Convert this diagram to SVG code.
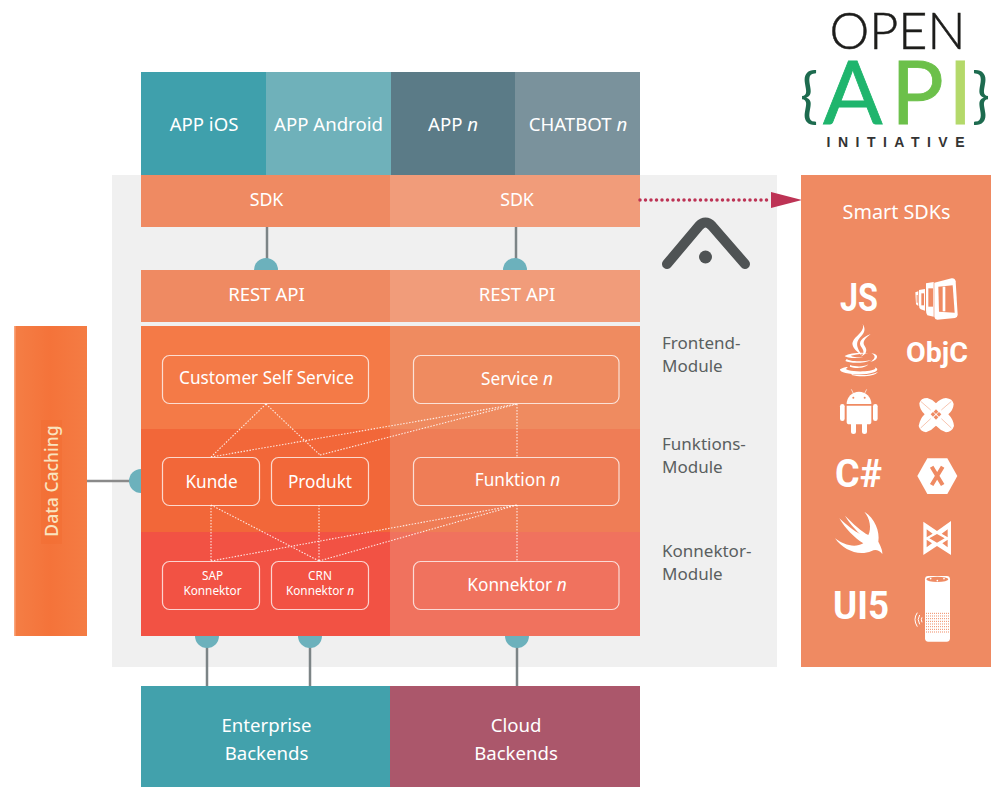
<svg xmlns="http://www.w3.org/2000/svg" width="991" height="787" viewBox="0 0 991 787">
<style>
text{font-family:"Noto Sans","Open Sans","Liberation Sans",sans-serif}
.l{fill:#fff;font-size:17.2px;text-anchor:middle}
.c{fill:#fff;font-size:18.6px;text-anchor:middle}
.s{fill:#fff;font-size:11.8px;text-anchor:middle}
.m{fill:#5a5f60;font-size:17px}
.b{fill:none;stroke:#fff;stroke-opacity:.75;stroke-width:1.2}
.d{fill:none;stroke:#fff;stroke-opacity:.85;stroke-width:1.1;stroke-dasharray:1.5 1.5}
.g{fill:none;stroke:#7c8486;stroke-width:2.5}
.t{fill:#6cb1bc}
.i{fill:#fff;font-family:Roboto,"Liberation Sans",sans-serif;font-weight:700;text-anchor:middle}
.o{fill:#ef8a62}
.w{fill:none;stroke:#fff}
.lg{font-family:Lato,"Liberation Sans",sans-serif}
</style>
<defs>
<clipPath id="lc"><rect x="800" y="12" width="191" height="140"/></clipPath>
<linearGradient id="dc" x1="0" x2="1" y1="0" y2="0"><stop offset="0" stop-color="#f47e45"/><stop offset=".5" stop-color="#f4733a"/><stop offset="1" stop-color="#f47c44"/></linearGradient>
</defs>
<rect width="991" height="787" fill="#fff"/>
<rect id="panel" x="112" y="175" width="665" height="492" fill="#f0f0f0"/>

<g id="connectors">
<path class="g" d="M267 227V262M516 227V262M207 640V686M310 640V686M517 640V686"/>
<path d="M87 481H134" fill="none" stroke="#8a8a8a" stroke-width="2.500"/>
<circle class="t" cx="266" cy="270" r="12"/><circle class="t" cx="515" cy="270" r="12"/>
<circle class="t" cx="141" cy="481" r="12"/>
<circle class="t" cx="207" cy="636" r="12"/><circle class="t" cx="310" cy="636" r="12"/><circle class="t" cx="517" cy="636" r="12"/>
</g>

<g id="app-ios"><rect x="141" y="72" width="125" height="103" fill="#3fa0ac"/><text class="c" x="204" y="131">APP iOS</text></g>
<g id="app-android"><rect x="266" y="72" width="125" height="103" fill="#6fb1ba"/><text class="c" x="328.500" y="131">APP Android</text></g>
<g id="app-n"><rect x="391" y="72" width="125" height="103" fill="#5b7b87"/><text class="c" x="453" y="131">APP <tspan font-style="italic">n</tspan></text></g>
<g id="chatbot-n"><rect x="515" y="72" width="125" height="103" fill="#7a929c"/><text class="c" x="578" y="131">CHATBOT <tspan font-style="italic">n</tspan></text></g>
<g id="sdk-1"><rect x="141" y="175" width="249" height="52" fill="#ef8a62"/><text class="l" x="266.500" y="206" style="font-size:17.8px">SDK</text></g>
<g id="sdk-2"><rect x="390" y="175" width="250" height="52" fill="#f19c7a"/><text class="l" x="517" y="206" style="font-size:17.8px">SDK</text></g>
<g id="rest-1"><rect x="141" y="270" width="249" height="52" fill="#ef8a62"/><text class="c" x="266.500" y="301">REST API</text></g>
<g id="rest-2"><rect x="390" y="270" width="250" height="52" fill="#f19c7a"/><text class="c" x="517" y="301">REST API</text></g>

<g id="bands">
<rect x="141" y="326" width="249" height="103" fill="#f47a47"/>
<rect x="141" y="429" width="249" height="103" fill="#f26739"/>
<rect x="141" y="532" width="249" height="104" fill="#f25244"/>
<rect x="390" y="326" width="250" height="103" fill="#ef8b60"/>
<rect x="390" y="429" width="250" height="103" fill="#ef7d56"/>
<rect x="390" y="532" width="250" height="104" fill="#f0725e"/>
</g>

<g id="dotted-links">
<path class="d" d="M266 404L211 457M266 404L320 455M211 457L517 404M320 455L517 404M517 404V457M211 505V561M319 505V561M211 505L319 561M211 561L517 505M319 561L517 505M517 505V561"/>
</g>

<g id="customer-self-service"><rect class="b" x="162.500" y="355.500" width="206" height="48" rx="7"/><text class="l" x="266.500" y="384">Customer Self Service</text></g>
<g id="service-n"><rect class="b" x="413.500" y="355.500" width="205.500" height="48" rx="7"/><text class="l" x="517" y="385">Service <tspan font-style="italic">n</tspan></text></g>
<g id="kunde"><rect class="b" x="162.500" y="457.500" width="97" height="48" rx="7"/><text class="l" x="211.500" y="488">Kunde</text></g>
<g id="produkt"><rect class="b" x="271.500" y="457.500" width="97" height="48" rx="7"/><text class="l" x="320" y="488">Produkt</text></g>
<g id="funktion-n"><rect class="b" x="413.500" y="457.500" width="205.500" height="48" rx="7"/><text class="l" x="517.500" y="486">Funktion <tspan font-style="italic">n</tspan></text></g>
<g id="sap-konnektor"><rect class="b" x="162.500" y="561.500" width="97" height="48" rx="7"/><text class="s" x="212.500" y="580">SAP</text><text class="s" x="212.500" y="595">Konnektor</text></g>
<g id="crn-konnektor-n"><rect class="b" x="271.500" y="561.500" width="97" height="48" rx="7"/><text class="s" x="320" y="580">CRN</text><text class="s" x="320" y="595">Konnektor <tspan font-style="italic">n</tspan></text></g>
<g id="konnektor-n"><rect class="b" x="413.500" y="561.500" width="205.500" height="48" rx="7"/><text class="l" x="517" y="591">Konnektor <tspan font-style="italic">n</tspan></text></g>

<g id="module-labels">
<text class="m" x="662" y="349">Frontend-</text><text class="m" x="662" y="372">Module</text>
<text class="m" x="662" y="450">Funktions-</text><text class="m" x="662" y="473">Module</text>
<text class="m" x="662" y="557">Konnektor-</text><text class="m" x="662" y="580">Module</text>
</g>

<g id="data-caching">
<rect x="14" y="326" width="73" height="310" fill="url(#dc)"/>
<rect x="14" y="326" width="1.500" height="310" fill="#f9a57c"/>
<rect x="41" y="420" width="21" height="124" fill="#f26b2e" opacity=".35"/>
<text x="52" y="481" transform="rotate(-90 52 481)" dy="6" text-anchor="middle" font-size="17.500" fill="#f9e3bf" font-weight="500">Data Caching</text>
</g>
<g id="enterprise-backends"><rect x="141" y="686" width="249" height="101" fill="#42a1ac"/><text class="c" x="266.500" y="732">Enterprise</text><text class="c" x="266.500" y="760">Backends</text></g>
<g id="cloud-backends"><rect x="390" y="686" width="250" height="101" fill="#ab576b"/><text class="c" x="516" y="732">Cloud</text><text class="c" x="516" y="760">Backends</text></g>

<g id="logo-mark" fill="none" stroke="#4f5354" stroke-width="10" stroke-linecap="round" stroke-linejoin="round">
<path d="M667 264L699 226Q705.500 219 712 226L745 264"/><circle cx="705.500" cy="257" r="6.500" fill="#4f5354" stroke="none"/>
</g>

<g id="sdk-arrow">
<path d="M640 200H771" fill="none" stroke="#bd3355" stroke-width="3.500" stroke-linecap="round" stroke-dasharray="0 5.500"/>
<path d="M771 192L802 200L771 208Z" fill="#bd3355"/>
</g>

<g id="open-api-logo" clip-path="url(#lc)">
<text class="lg" x="897.500" y="49" text-anchor="middle" font-size="52" fill="#1d1d1b" font-weight="300" stroke="#1d1d1b" stroke-width=".5" textLength="136" lengthAdjust="spacingAndGlyphs">OPEN</text>
<text class="lg" y="124" font-size="88"><tspan x="800" y="116" font-size="60" fill="#1d6b4f">{</tspan><tspan x="823" y="124" fill="#1fb56d" stroke="#1fb56d" stroke-width=".8">A</tspan><tspan x="891" fill="#6cc04a" stroke="#6cc04a" stroke-width=".8">P</tspan><tspan x="948" fill="#b4d96a" stroke="#b4d96a" stroke-width=".8">I</tspan><tspan x="972" y="116" font-size="60" fill="#1d6b4f">}</tspan></text>
<text x="895.500" y="147" text-anchor="middle" font-size="14" font-weight="700" fill="#333" textLength="138" style="font-family:'Liberation Sans',sans-serif">INITIATIVE</text>
</g>

<g id="smart-sdks">
<rect x="801" y="175" width="190" height="492" fill="#ef8a62"/>
<text class="l" x="896.500" y="219" style="font-size:19.800px">Smart SDKs</text>
<text class="i" x="859" y="311" font-size="39" textLength="38" lengthAdjust="spacingAndGlyphs">JS</text>
<text class="i" x="937" y="362" font-size="27" textLength="62" lengthAdjust="spacingAndGlyphs">ObjC</text>
<text class="i" x="858.500" y="487" font-size="39" textLength="47" lengthAdjust="spacingAndGlyphs">C#</text>
<text class="i" x="861" y="619" font-size="38" textLength="56" lengthAdjust="spacingAndGlyphs">UI5</text>
<g transform="translate(800 260) scale(.33333)">
<g id="icon-phones">
<path fill="#fff" d="M403 68L455 55Q465 54 467 64L473 165Q472 173 465 174L412 179Q404 178 403 170Z"/>
<path class="o" d="M415 80L458 76L464 158L417 155Z"/>
<path fill="#fff" d="M428 80H436V154H428Z"/>
<path fill="#fff" d="M378 70L401 66V170L382 166Q378 160 378 150Z"/>
<path class="o" d="M385 85H399V140H385Z"/>
<path fill="#fff" d="M357 90L375 87V152L362 148Q357 145 357 135Z"/>
<path class="o" d="M364 100H372V136H364Z"/>
<path fill="#fff" d="M346 97L355 94V138L348 133Z"/>
<path class="o" d="M350 105H353V128H350Z"/>
</g>
<g id="icon-java" fill="#fff">
<path d="M188 192C198 218 152 232 158 256C162 270 178 280 186 287C176 268 160 252 184 228C196 216 196 204 188 192Z"/>
<path d="M212 222C188 232 170 246 186 264C194 276 190 284 182 290C198 284 204 272 194 258C186 246 194 236 212 222Z"/>
<path d="M205 280C180 276 150 280 134 288C140 294 170 296 190 292C170 292 155 290 152 287C170 283 190 281 205 280Z"/>
<path d="M214 280C240 282 235 302 210 306C225 298 230 288 214 280Z"/>
<path d="M140 297C150 305 190 306 215 299C190 312 150 310 136 303Z"/>
<path d="M150 315C170 322 195 320 205 313C195 326 165 326 150 320Z"/>
<path d="M120 328C130 320 150 318 140 325C130 330 160 336 195 334C215 333 232 328 224 322C240 327 232 338 200 342C165 346 118 340 120 328Z"/>
<path d="M155 342C180 348 215 346 234 336C222 350 180 352 155 345Z"/>
</g>
<g id="icon-android" fill="#fff">
<path d="M140 432A37 37 0 0 1 214 432Z"/>
<path d="M140 437H214V485Q214 493 206 493H148Q140 493 140 485Z"/>
<rect x="120" y="432" width="14" height="51" rx="7"/><rect x="219" y="432" width="14" height="51" rx="7"/>
<rect x="153" y="485" width="15" height="37" rx="7.500"/><rect x="186" y="485" width="15" height="37" rx="7.500"/>
<path d="M154 388L161 402M200 388L193 402" stroke="#fff" stroke-width="2"/>
<circle class="o" cx="160" cy="413" r="3"/><circle class="o" cx="194" cy="413" r="3"/>
</g>
<g id="icon-cross">
<path fill="#fff" d="M358 430Q362 414 382 414Q398 418 408 430Q420 416 438 414Q458 416 461 432Q460 450 445 463Q460 478 462 498Q456 516 438 517Q420 510 408 497Q396 510 378 517Q360 514 356 498Q360 476 374 463Q358 448 358 430Z"/>
<path class="o" d="M408 448L415 455L408 462L401 455ZM408 465L415 472L408 479L401 472ZM399 456L406 463L399 470L392 463ZM417 456L424 463L417 470L410 463Z"/>
<path d="M362 424L392 450M454 424L424 450M362 504L392 476M454 504L424 476" fill="none" stroke="#ef8a62" stroke-width="1.500"/>
</g>
</g>
<g transform="translate(800 450) scale(.33333)">
<g id="icon-xamarin">
<path fill="#fff" d="M352 78L382 25H442L472 78L442 132H382Z"/>
<path d="M395 50L428 105M428 50L395 105" class="w" style="stroke:#ef8a62;stroke-width:12"/>
</g>
<path id="icon-swift" fill="#fff" d="M193 185C225 205 240 245 235 275C240 285 248 300 247 312C238 300 225 297 215 303C175 320 130 300 105 265C130 285 165 295 190 280C165 265 135 235 118 205C140 225 165 245 180 252C165 238 145 215 135 197C160 222 185 245 205 255C215 235 210 205 193 185Z"/>
<g id="icon-kendo">
<path fill="#fff" d="M370 215L411 243L453 213V315L411 288L370 315Z"/>
<path class="o" d="M411 252L434 265L411 278L388 265ZM380 238L398 251L380 262ZM443 238L425 251L443 262ZM380 292V269L396 280ZM443 292V269L427 280Z"/>
</g>
<g id="icon-echo">
<rect x="375" y="378" width="75" height="197" rx="10" fill="#fff"/>
<ellipse cx="412" cy="388" rx="33" ry="8" class="o"/>
<circle cx="392" cy="386" r="2.500" fill="#fff"/><circle cx="432" cy="386" r="2.500" fill="#fff"/><circle cx="412" cy="392" r="2.500" fill="#fff"/>
<path d="M378 490H448M378 498H448M378 506H448M378 514H448M378 522H448M378 530H448M378 538H448M378 546H448" fill="none" stroke="#ef8a62" stroke-width="3" stroke-dasharray="3 3"/>
<path class="w" style="stroke-width:3" d="M352 488Q338 508 352 530M359 495Q350 508 359 523M366 502Q362 508 366 517"/>
</g>
</g>
</g>
</svg>
